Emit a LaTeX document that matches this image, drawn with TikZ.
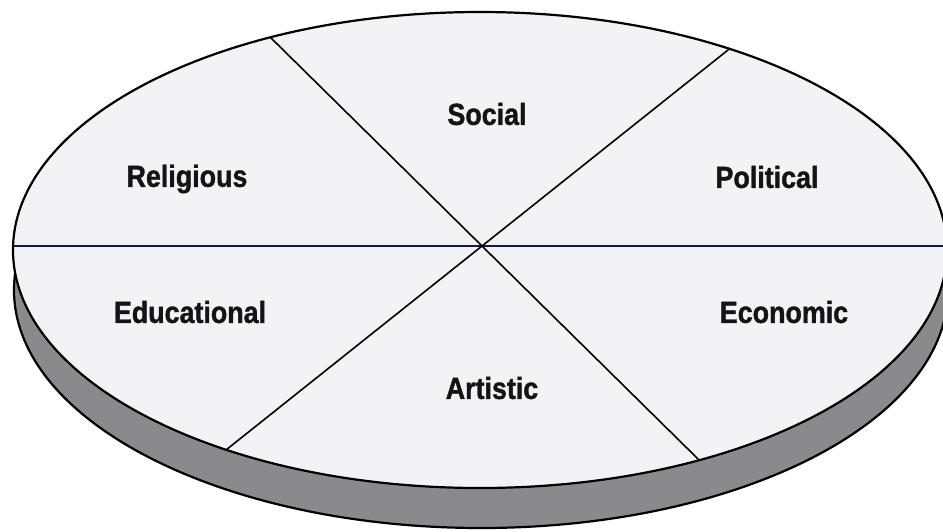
\documentclass[tikz,border=0pt]{standalone}
\usepackage{fontspec}
\setmainfont{Liberation Sans}
\newfontfamily\labelfont[FakeStretch=0.88, FakeBold=1.2]{Liberation Sans}
\definecolor{faceclr}{RGB}{243,243,245}
\definecolor{slabclr}{RGB}{138,138,140}
\definecolor{inkclr}{RGB}{20,20,24}
\definecolor{navyclr}{RGB}{24,24,60}

\begin{document}
\begin{tikzpicture}[x=1pt, y=-1pt, every node/.style={font=\labelfont\fontsize{30.5}{33}\selectfont\bfseries, text=inkclr, inner sep=0pt}]
\useasboundingbox (0,0) rectangle (943,531);
\clip (0,0) rectangle (943,531);
\fill[white] (0,0) rectangle (943,531);
% slab and top face
\filldraw[fill=slabclr, line width=2.2pt] (481,290) ellipse [x radius=467pt, y radius=238pt];
\filldraw[fill=faceclr, line width=2.2pt] (480,250) ellipse [x radius=467pt, y radius=238pt];
\begin{scope}
\clip (480,250) ellipse [x radius=466pt, y radius=237pt];
\coordinate (O) at (482,246);
\draw[line width=1.8pt, navyclr] (0,246) -- (943,246);
\draw[line width=1.6pt] (O) -- +(-428,-422) (O) -- +(428,422);
\draw[line width=1.6pt] (O) -- +(492,-392) (O) -- +(-492,392);
\end{scope}
\node (SOC) at (487,114) {Social};
\node (REL) at (187,179) {Religious};
\node (POL) at (767,177) {Political};
\node (EDU) at (190,312) {Educational};
\node (ECO) at (784,312) {Economic};
\node (ART) at (492,388) {Artistic};
\end{tikzpicture}
\end{document}
